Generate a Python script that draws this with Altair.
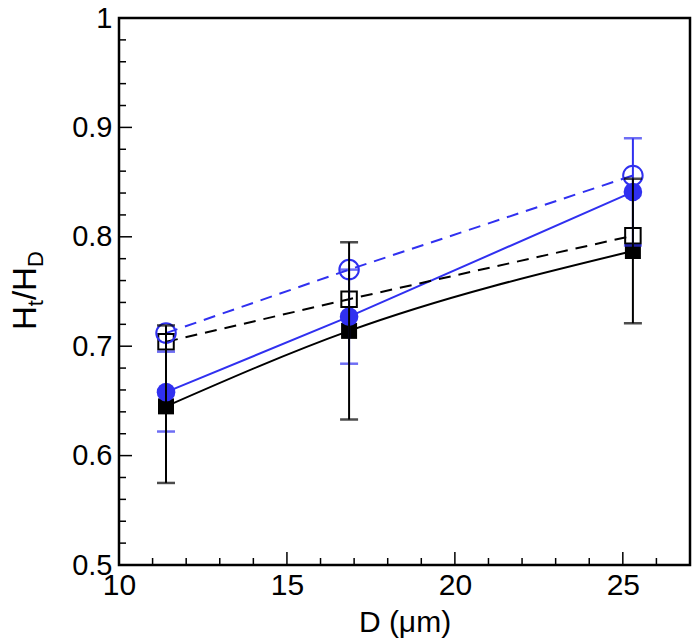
import altair as alt
import pandas as pd

# ---- data ----
D = [11.4, 16.85, 25.3]
blue_open = [0.712, 0.770, 0.856]      # open circles, dashed blue
blue_filled = [0.658, 0.727, 0.841]    # filled circles, solid blue
black_open = [0.704, 0.743, 0.801]     # open squares, dashed black
black_filled = [0.645, 0.714, 0.787]   # filled squares, solid black
blue_err_lo = [0.622, 0.684, 0.792]
blue_err_hi = [0.695, 0.770, 0.890]
black_err_lo = [0.575, 0.633, 0.721]
black_err_hi = [0.719, 0.795, 0.853]

x_major = [10, 15, 20, 25]
x_minor = [11, 12, 13, 14, 16, 17, 18, 19, 21, 22, 23, 24, 26]
y_major = [0.5, 0.6, 0.7, 0.8, 0.9, 1.0]
y_minor = [0.52, 0.54, 0.56, 0.58, 0.62, 0.64, 0.66, 0.68, 0.72, 0.74, 0.76, 0.78,
           0.82, 0.84, 0.86, 0.88, 0.92, 0.94, 0.96, 0.98]

BLUE = "#3030f0"
BLACK = "#000000"
W, H = 571, 547
FONT = "Liberation Sans"

xs = alt.Scale(domain=[10, 27], nice=False, zero=False)
ys = alt.Scale(domain=[0.5, 1.0], nice=False, zero=False)
xax = alt.Axis(values=x_major, title="D (μm)", labelFontSize=30, labelPadding=5,
               labelFlush=False, labelOverlap=False, titleFontSize=30,
               titleFontWeight="normal", titleBaseline="alphabetic", titleY=66,
               titleFont=FONT, labelFont=FONT)
yax = alt.Axis(values=y_major, title="", format="~g", labelFontSize=29, labelPadding=7,
               labelFlush=False, labelOverlap=False, labelFont=FONT)

def X(f):
    return alt.X(f, type="quantitative", scale=xs, axis=xax)

def Y(f):
    return alt.Y(f, type="quantitative", scale=ys, axis=yax)

df = pd.DataFrame({
    "D": D,
    "bo": blue_open, "bf": blue_filled, "ko": black_open, "kf": black_filled,
    "blo": blue_err_lo, "bhi": blue_err_hi, "klo": black_err_lo, "khi": black_err_hi,
})
base = alt.Chart(df)

layers = []
# lines
layers.append(base.mark_line(color=BLACK, strokeWidth=2, interpolate="monotone").encode(x=X("D"), y=Y("kf")))
layers.append(base.mark_line(color=BLUE, strokeWidth=2).encode(x=X("D"), y=Y("bf")))
layers.append(base.mark_line(color=BLACK, strokeWidth=2, strokeDash=[12, 8]).encode(x=X("D"), y=Y("ko")))
layers.append(base.mark_line(color=BLUE, strokeWidth=2, strokeDash=[12, 8]).encode(x=X("D"), y=Y("bo")))
# markers
layers.append(base.mark_point(shape="square", filled=True, color=BLACK, opacity=1, size=256).encode(x=X("D"), y=Y("kf")))
layers.append(base.mark_point(shape="circle", filled=True, color=BLUE, opacity=1, size=346).encode(x=X("D"), y=Y("bf")))
layers.append(base.mark_point(shape="square", filled=False, color=BLACK, opacity=1, size=240, strokeWidth=2).encode(x=X("D"), y=Y("ko")))
layers.append(base.mark_point(shape="circle", filled=False, color=BLUE, opacity=1, size=380, strokeWidth=2).encode(x=X("D"), y=Y("bo")))
# error bars
for lo, hi, col in [("blo", "bhi", BLUE), ("klo", "khi", BLACK)]:
    layers.append(base.mark_rule(color=col, strokeWidth=2).encode(x=X("D"), y=Y(lo), y2=alt.Y2(hi)))
    layers.append(base.mark_tick(color=col, orient="horizontal", size=18, thickness=2.5).encode(x=X("D"), y=Y(lo)))
    layers.append(base.mark_tick(color=col, orient="horizontal", size=18, thickness=2.5).encode(x=X("D"), y=Y(hi)))

# inward ticks
for vals, ln in [(x_major, 13), (x_minor, 7)]:
    layers.append(alt.Chart(pd.DataFrame({"D": vals})).mark_rule(color=BLACK, strokeWidth=1.5).encode(
        x=X("D"), y=alt.value(H), y2=alt.value(H - ln)))
for vals, ln in [(y_major, 13), (y_minor, 7)]:
    layers.append(alt.Chart(pd.DataFrame({"v": vals})).mark_rule(color=BLACK, strokeWidth=1.5).encode(
        y=Y("v"), x=alt.value(0), x2=alt.value(ln)))

# y title: H_t/H_D built from pieces
MAIN, SUB = 33, 22
pieces = [("H", MAIN, -83, 0.722), ("t", SUB, -76, 0.278), ("/H", MAIN, -83, 0.278 + 0.722), ("D", SUB, -76, 0.722)]
ypos = 312
for txt, fs, xp, wf in pieces:
    layers.append(alt.Chart(pd.DataFrame({"t": [txt]})).mark_text(
        angle=270, align="left", baseline="alphabetic", fontSize=fs, font=FONT, color=BLACK
    ).encode(text="t:N", x=alt.value(xp), y=alt.value(ypos)))
    ypos -= fs * wf

chart = alt.layer(*layers).properties(
    width=W, height=H,
    autosize=alt.AutoSizeParams(type="none"),
    padding={"left": 111, "top": 10, "right": 2, "bottom": 76},
).configure_view(stroke=BLACK, strokeWidth=2.5).configure_axis(
    domain=False, ticks=False, grid=False, labelColor=BLACK, titleColor=BLACK
)

chart.save("out.html", embed_options={"renderer": "svg", "actions": False})
